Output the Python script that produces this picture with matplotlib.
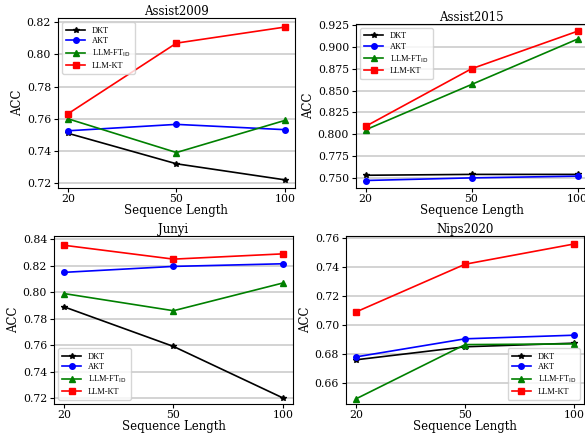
import matplotlib
matplotlib.use("Agg")
import matplotlib.pyplot as plt

seq_labels = ["20", "50", "100"]
methods = ["DKT", "AKT", r"LLM-FT$_{\rm ID}$", "LLM-KT"]

assist2009_dkt = [0.751, 0.732, 0.722]
assist2009_akt = [0.7525, 0.7565, 0.7532]
assist2009_ft = [0.760, 0.739, 0.759]
assist2009_kt = [0.763, 0.807, 0.817]

assist2015_dkt = [0.753, 0.754, 0.754]
assist2015_akt = [0.747, 0.750, 0.752]
assist2015_ft = [0.805, 0.857, 0.909]
assist2015_kt = [0.809, 0.875, 0.918]

junyi_dkt = [0.789, 0.759, 0.720]
junyi_akt = [0.815, 0.8195, 0.8215]
junyi_ft = [0.799, 0.786, 0.807]
junyi_kt = [0.8355, 0.825, 0.829]

nips_dkt = [0.676, 0.685, 0.6875]
nips_akt = [0.678, 0.6905, 0.693]
nips_ft = [0.649, 0.6865, 0.687]
nips_kt = [0.709, 0.742, 0.756]

colors = ["black", "blue", "green", "red"]
markers = ["*", "o", "^", "s"]
msizes = [4.0, 4.0, 4.5, 4.3]

panels = [
    ("Assist2009", [assist2009_dkt, assist2009_akt, assist2009_ft, assist2009_kt],
     [0.0991, 0.566, 0.405, 0.392], "upper left", [0.72, 0.74, 0.76, 0.78, 0.80, 0.82], "{:.2f}",
     (0.717, 0.8225)),
    ("Assist2015", [assist2015_dkt, assist2015_akt, assist2015_ft, assist2015_kt],
     [0.6085, 0.566, 0.395, 0.379], "upper left",
     [0.750, 0.775, 0.800, 0.825, 0.850, 0.875, 0.900, 0.925], "{:.3f}", (0.7385, 0.9265)),
    ("Junyi", [junyi_dkt, junyi_akt, junyi_ft, junyi_kt],
     [0.0923, 0.067, 0.4085, 0.388], "lower left", [0.72, 0.74, 0.76, 0.78, 0.80, 0.82, 0.84], "{:.2f}",
     (0.7155, 0.8425)),
    ("Nips2020", [nips_dkt, nips_akt, nips_ft, nips_kt],
     [0.5915, 0.067, 0.407, 0.388], "lower right", [0.66, 0.68, 0.70, 0.72, 0.74, 0.76], "{:.2f}",
     (0.6455, 0.7615)),
]

fig = plt.figure(figsize=(5.85, 4.33), dpi=100)
serif = "DejaVu Serif"
x = list(range(len(seq_labels)))
for title, series, pos, loc, yticks, fmt, ylim in panels:
    ax = fig.add_axes(pos)
    for vals, name, c, m, ms in zip(series, methods, colors, markers, msizes):
        ax.plot(x, vals, color=c, marker=m, markersize=ms, linewidth=1.2, label=name)
    ax.set_xticks(x)
    ax.set_xticklabels(seq_labels, fontfamily=serif, fontsize=7.8)
    ax.set_yticks(yticks)
    ax.set_yticklabels([fmt.format(v) for v in yticks], fontfamily=serif, fontsize=7.8)
    ax.set_xlim(-0.09, 2.09)
    ax.set_ylim(*ylim)
    ax.grid(axis="y", color="#d0d0d0", linewidth=1.3)
    ax.set_axisbelow(True)
    ax.set_title(title, fontfamily=serif, fontsize=8.5, pad=2)
    ax.set_xlabel("Sequence Length", fontfamily=serif, fontsize=8.5, labelpad=0)
    ax.set_ylabel("ACC", fontfamily=serif, fontsize=8.5, labelpad=2)
    ax.tick_params(axis="x", length=3, pad=1.5)
    ax.tick_params(axis="y", length=3, pad=2)
    ax.legend(loc=loc, prop={"family": "Liberation Serif", "size": 6},
              handlelength=2.3, borderpad=0.5, labelspacing=0.3, handletextpad=0.8)

fig.savefig("out.png", dpi=100)
